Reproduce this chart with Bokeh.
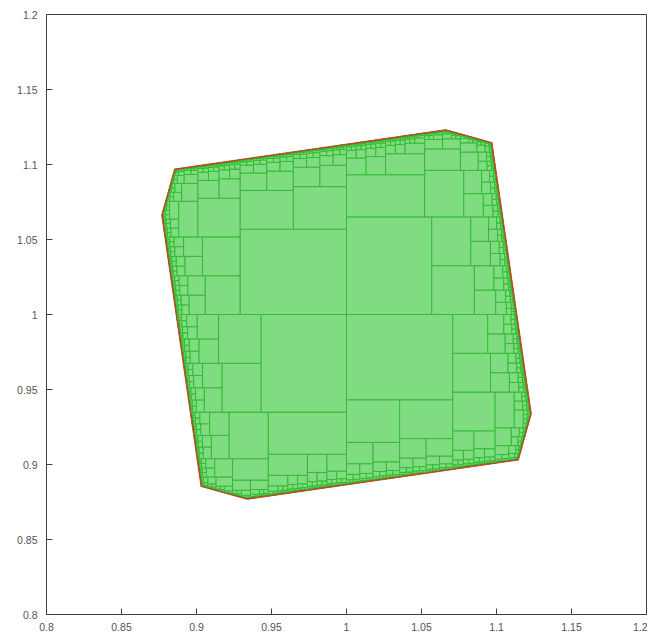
import math
from bokeh.plotting import figure
from bokeh.embed import file_html
from bokeh.resources import INLINE

# ---------------- chart values ----------------
X_RANGE = (0.8, 1.2)
Y_RANGE = (0.8, 1.2)
X_TICKS = [0.8, 0.85, 0.9, 0.95, 1.0, 1.05, 1.1, 1.15, 1.2]
X_TICK_LABELS = ["0.8", "0.85", "0.9", "0.95", "1", "1.05", "1.1", "1.15", "1.2"]
Y_TICKS = [0.8, 0.85, 0.9, 0.95, 1.0, 1.05, 1.1, 1.15, 1.2]
Y_TICK_LABELS = ["0.8", "0.85", "0.9", "0.95", "1", "1.05", "1.1", "1.15", "1.2"]

# the set: intersection of two rotated squares centred on CENTER
CENTER = [1.0, 1.0]
SQUARE_ANGLES_DEG = [8.25, -15.6]
SQUARE_HALF_WIDTHS = [0.1125, 0.1365]
SEARCH_BOX = [0.8, 1.2, 0.8, 1.2]
EPSILON = 0.0007

# ---------------- paving (SIVIA with forward-backward contraction) ----------------
CONSTRAINTS = []
for ang, r in zip(SQUARE_ANGLES_DEG, SQUARE_HALF_WIDTHS):
    t = math.radians(ang)
    c, s = math.cos(t), math.sin(t)
    CONSTRAINTS.append((c, s, r))
    CONSTRAINTS.append((-s, c, r))


def imul(a, lo, hi):
    return (a * lo, a * hi) if a >= 0 else (a * hi, a * lo)


def idiv(lo, hi, a):
    return (lo / a, hi / a) if a > 0 else (hi / a, lo / a)


def contract(box):
    xl, xh, yl, yh = box
    for a1, a2, r in CONSTRAINTS:
        t1 = imul(a1, xl, xh)
        t2 = imul(a2, yl, yh)
        s_lo = max(t1[0] + t2[0], -r)
        s_hi = min(t1[1] + t2[1], r)
        if s_lo > s_hi:
            return None
        t1 = (max(t1[0], s_lo - t2[1]), min(t1[1], s_hi - t2[0]))
        if t1[0] > t1[1]:
            return None
        t2 = (max(t2[0], s_lo - t1[1]), min(t2[1], s_hi - t1[0]))
        if t2[0] > t2[1]:
            return None
        nx = idiv(t1[0], t1[1], a1)
        ny = idiv(t2[0], t2[1], a2)
        xl, xh = max(xl, nx[0]), min(xh, nx[1])
        yl, yh = max(yl, ny[0]), min(yh, ny[1])
        if xl > xh or yl > yh:
            return None
    return (xl, xh, yl, yh)


def inside(box):
    xl, xh, yl, yh = box
    for a1, a2, r in CONSTRAINTS:
        t1 = imul(a1, xl, xh)
        t2 = imul(a2, yl, yh)
        if t1[0] + t2[0] < -r or t1[1] + t2[1] > r:
            return False
    return True


inner, bound = [], []


def sivia(box, depth):
    if depth >= 2:
        box = contract(box)
        if box is None:
            return
    if inside(box):
        inner.append(box)
        return
    xl, xh, yl, yh = box
    if max(xh - xl, yh - yl) < EPSILON:
        bound.append(box)
        return
    if xh - xl >= yh - yl:
        m = 0.5 * (xl + xh)
        sivia((xl, m, yl, yh), depth + 1)
        sivia((m, xh, yl, yh), depth + 1)
    else:
        m = 0.5 * (yl + yh)
        sivia((xl, xh, yl, m), depth + 1)
        sivia((xl, xh, m, yh), depth + 1)


cx, cy = CENTER
sivia((SEARCH_BOX[0] - cx, SEARCH_BOX[1] - cx, SEARCH_BOX[2] - cy, SEARCH_BOX[3] - cy), 0)


def to_cols(boxes):
    return dict(left=[b[0] + cx for b in boxes], right=[b[1] + cx for b in boxes],
                bottom=[b[2] + cy for b in boxes], top=[b[3] + cy for b in boxes])


# ---------------- figure ----------------
p = figure(frame_width=600, frame_height=600, x_range=X_RANGE, y_range=Y_RANGE,
           output_backend="svg", toolbar_location=None,
           min_border_left=46, min_border_right=1, min_border_top=14, min_border_bottom=21)
p.xgrid.visible = False
p.ygrid.visible = False
p.outline_line_color = "#404040"
p.outline_line_width = 1
p.background_fill_color = "white"
p.border_fill_color = "white"

ic = to_cols(inner)
p.quad(left=ic["left"], right=ic["right"], bottom=ic["bottom"], top=ic["top"],
       fill_color="#80dc80", line_color="#36bb36", line_width=1)
bc = to_cols(bound)
p.quad(left=bc["left"], right=bc["right"], bottom=bc["bottom"], top=bc["top"],
       fill_color="#b84a24", line_color="#b84a24", line_width=0.5)

for ax, ticks, labels, standoff in ((p.xaxis, X_TICKS, X_TICK_LABELS, 8),
                                   (p.yaxis, Y_TICKS, Y_TICK_LABELS, 9)):
    ax.ticker = ticks
    ax.major_label_overrides = {t: l for t, l in zip(ticks, labels)}
    ax.minor_tick_line_color = None
    ax.major_tick_in = 6
    ax.major_tick_out = 0
    ax.axis_line_color = "#404040"
    ax.major_tick_line_color = "#404040"
    ax.major_label_text_font = "Liberation Sans"
    ax.major_label_text_font_size = "10.5px"
    ax.major_label_text_color = "#555555"
    ax.major_label_standoff = standoff

open("out.html", "w").write(file_html(p, INLINE))
